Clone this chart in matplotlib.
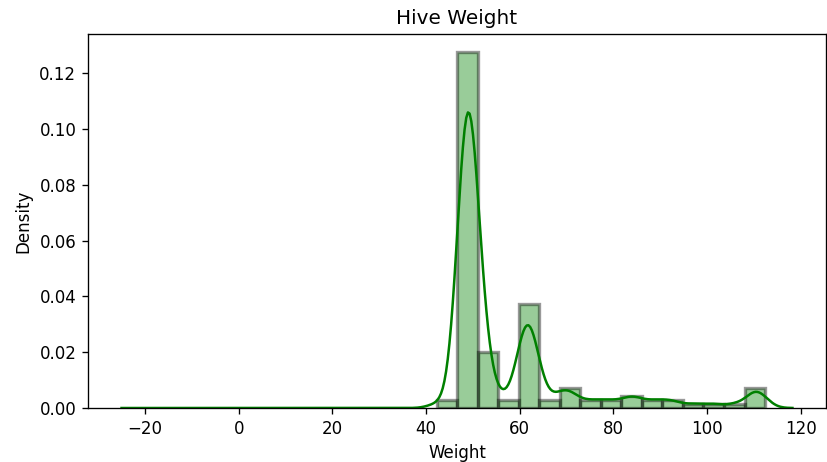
import matplotlib
matplotlib.use('Agg')
import matplotlib.pyplot as plt
import numpy as np

# Hive weight readings (kg) and how many times each was recorded
weight_values = [42.3, 45.8,
                 47.0, 47.5, 48.0, 48.5, 49.0, 49.5, 50.0, 50.5, 51.0,
                 51.5, 52.0, 52.5, 53.5, 54.5, 55.0,
                 57.0, 59.0,
                 60.0, 60.5, 61.0, 61.5, 62.0, 62.5, 63.0, 63.5, 64.0,
                 65.5, 67.5,
                 69.0, 69.5, 70.0, 71.0, 72.0,
                 74.5, 76.5, 78.5, 80.5,
                 83.0, 84.0, 85.0,
                 87.5, 89.5, 91.5, 93.5,
                 97.5, 101.5, 106.0,
                 109.5, 110.0, 110.5, 111.0, 112.4]
weight_counts = [1, 1,
                 5, 8, 12, 15, 16, 13, 10, 7, 3,
                 5, 4, 2, 1, 1, 1,
                 1, 1,
                 2, 3, 4, 4, 4, 3, 3, 2, 1,
                 1, 1,
                 1, 1, 1, 1, 1,
                 1, 1, 1, 1,
                 1, 1, 1,
                 1, 1, 1, 1,
                 1, 1, 1,
                 1, 1, 1, 1, 1]

weights = np.repeat(weight_values, weight_counts)

n_bins = 16
bw = 1.95
kde_start = -25

fig = plt.figure(figsize=(827 / 120, 462 / 120), dpi=120)
ax = fig.add_axes([88 / 827, 1 - 408 / 462, (826 - 88) / 827, (408 - 34) / 462])

# histogram as density
ax.hist(weights, bins=n_bins, density=True, color='green', alpha=0.4,
        edgecolor='black', linewidth=2)

# gaussian kde of the same readings
grid = np.linspace(kde_start, weights.max() + 3 * bw, 400)
dens = np.exp(-0.5 * ((grid[:, None] - weights[None, :]) / bw) ** 2).sum(axis=1)
dens = dens / (len(weights) * bw * np.sqrt(2 * np.pi))
ax.plot(grid, dens, color='green', linewidth=1.5)

ax.set_title('Hive Weight')
ax.set_xlabel('Weight')
ax.set_ylabel('Density')

fig.savefig('out.png', dpi=120)
